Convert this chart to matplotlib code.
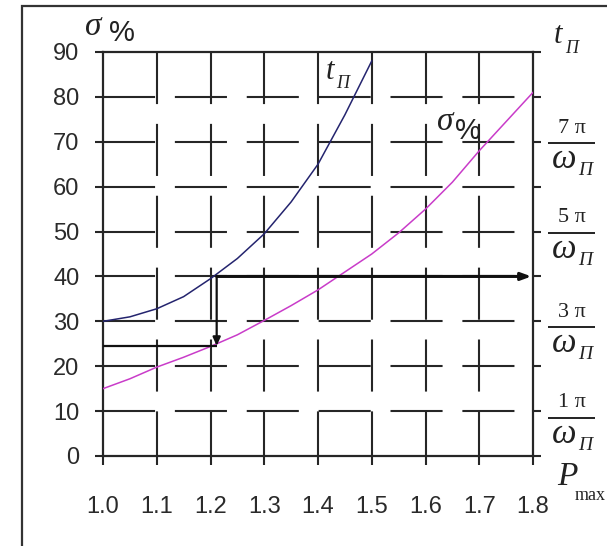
import matplotlib
matplotlib.use("Agg")
import matplotlib.pyplot as plt
from matplotlib.patches import Rectangle

# ---------------- data ----------------
p_ticks = [1.0, 1.1, 1.2, 1.3, 1.4, 1.5, 1.6, 1.7, 1.8]
p_tick_labels = ["1.0", "1.1", "1.2", "1.3", "1.4", "1.5", "1.6", "1.7", "1.8"]
sigma_ticks = [0, 10, 20, 30, 40, 50, 60, 70, 80, 90]
sigma_tick_labels = ["0", "10", "20", "30", "40", "50", "60", "70", "80", "90"]

p_t = [1.0, 1.05, 1.1, 1.15, 1.2, 1.25, 1.3, 1.35, 1.4, 1.45, 1.5]
t_vals = [30, 31, 32.8, 35.5, 39.5, 44, 49.5, 56.6, 65, 76, 88]

p_sigma = [1.0, 1.05, 1.1, 1.15, 1.2, 1.25, 1.3, 1.35, 1.4, 1.45, 1.5,
           1.55, 1.6, 1.65, 1.7, 1.75, 1.8]
sigma_vals = [15, 17.2, 19.8, 22, 24.4, 27, 30.2, 33.5, 37, 41, 45,
              49.7, 55, 61, 68, 74.5, 81]

t_right_nums = ["1 π", "3 π", "5 π", "7 π"]
t_right_levels = [8.5, 28.7, 49.7, 69.7]

# reading path on the nomogram
path_p = 1.2115
path_sigma = 24.5
path_t = 40
path_p_end = 1.797

# ---------------- figure ----------------
W, H = 607, 546
fig = plt.figure(figsize=(W / 100, H / 100), dpi=100)
fig.patch.set_facecolor("white")

ax = fig.add_axes([103 / W, (H - 456) / H, (533 - 103) / W, (456 - 52) / H])
ax.set_xlim(1.0, 1.8)
ax.set_ylim(0, 90)

gcol = "#262626"
ax.set_xticks(p_ticks)
ax.set_xticklabels(p_tick_labels)
ax.set_yticks(sigma_ticks)
ax.set_yticklabels(sigma_tick_labels)

# dashed grid: horizontal lines run left->right, vertical lines top->bottom
dash = (0, (25, 9.5))
ax.hlines(sigma_ticks[1:-1], 1.0, 1.8, colors=gcol, lw=1.5, linestyles=[dash],
          zorder=1)
ax.vlines(p_ticks[1:-1], 90, 0, colors=gcol, lw=1.5, linestyles=[dash],
          zorder=1)

for s in ax.spines.values():
    s.set_color(gcol)
    s.set_linewidth(1.6)
ax.tick_params(axis="both", which="major", direction="out", color=gcol,
               width=1.5, labelsize=17, labelcolor="#2a2a2a")
ax.tick_params(axis="y", length=6, pad=11, right=True, labelright=False)
ax.tick_params(axis="x", length=6.5, pad=22)
for lab in ax.get_xticklabels() + ax.get_yticklabels():
    lab.set_fontfamily("Liberation Sans")

# curves
ax.plot(p_t, t_vals, color="#24246e", lw=1.1, zorder=4)
ax.plot(p_sigma, sigma_vals, color="#c93cc9", lw=1.1, zorder=4)

# reading path with arrows
ax.plot([1.0, path_p], [path_sigma, path_sigma], color="#111", lw=1.6,
        zorder=5, solid_capstyle="butt")
ax.annotate("", xy=(path_p, path_sigma), xytext=(path_p, path_t),
            arrowprops=dict(arrowstyle="-|>,head_length=0.5,head_width=0.22",
                            color="#111", lw=1.6, shrinkA=0, shrinkB=0),
            zorder=5)
ax.annotate("", xy=(path_p_end, path_t), xytext=(path_p, path_t),
            arrowprops=dict(arrowstyle="-|>,head_length=0.6,head_width=0.22",
                            color="#111", lw=2.2, shrinkA=0, shrinkB=0),
            zorder=5)

serif = "Liberation Serif"
sans = "Liberation Sans"
tc = "#222222"

def txt(x, y, s, size, family=serif, style="italic", ha="left"):
    ax.text(x, y, s, fontsize=size, family=family, style=style, color=tc,
            ha=ha, va="baseline", clip_on=False)

# axis title sigma% (top left)
txt(0.9665, 93.8, "σ", 24)
txt(1.012, 92.4, "%", 21, family=sans, style="normal")
# inline curve labels
txt(1.4135, 84.0, "t", 22)
txt(1.4345, 81.9, "П", 13)
txt(1.621, 72.6, "σ", 24)
txt(1.655, 70.6, "%", 21, family=sans, style="normal")
# right axis title
txt(1.838, 92.0, "t", 22)
txt(1.859, 89.8, "П", 13)
# x axis title
txt(1.845, -6.4, "P", 24)
txt(1.878, -9.8, "max", 13, style="normal")

# right-hand fraction labels
bar_c = 1.8716
bar_h = 0.0437
for num, lev in zip(t_right_nums, t_right_levels):
    ax.plot([bar_c - bar_h, bar_c + bar_h], [lev, lev], color=tc, lw=1.4,
            clip_on=False, solid_capstyle="butt")
    ax.annotate(num, xy=(bar_c, lev), xytext=(0, 7.5),
                textcoords="offset points", ha="center", va="baseline",
                fontsize=16, family=serif, color=tc, annotation_clip=False)
    ax.annotate("ω", xy=(bar_c - bar_h, lev), xytext=(2.5, -18),
                textcoords="offset points", ha="left", va="baseline",
                fontsize=25, family=serif, style="italic", color=tc,
                annotation_clip=False)
    ax.annotate("П", xy=(bar_c - bar_h, lev), xytext=(22, -23),
                textcoords="offset points", ha="left", va="baseline",
                fontsize=14, family=serif, style="italic", color=tc,
                annotation_clip=False)

# outer frame
fig.patches.append(Rectangle((22 / W, -0.05), 1.2, (H - 6) / H + 0.05,
                             transform=fig.transFigure, fill=False,
                             edgecolor="#333333", lw=1.6))

fig.savefig("out.png", dpi=100, facecolor=fig.get_facecolor())
